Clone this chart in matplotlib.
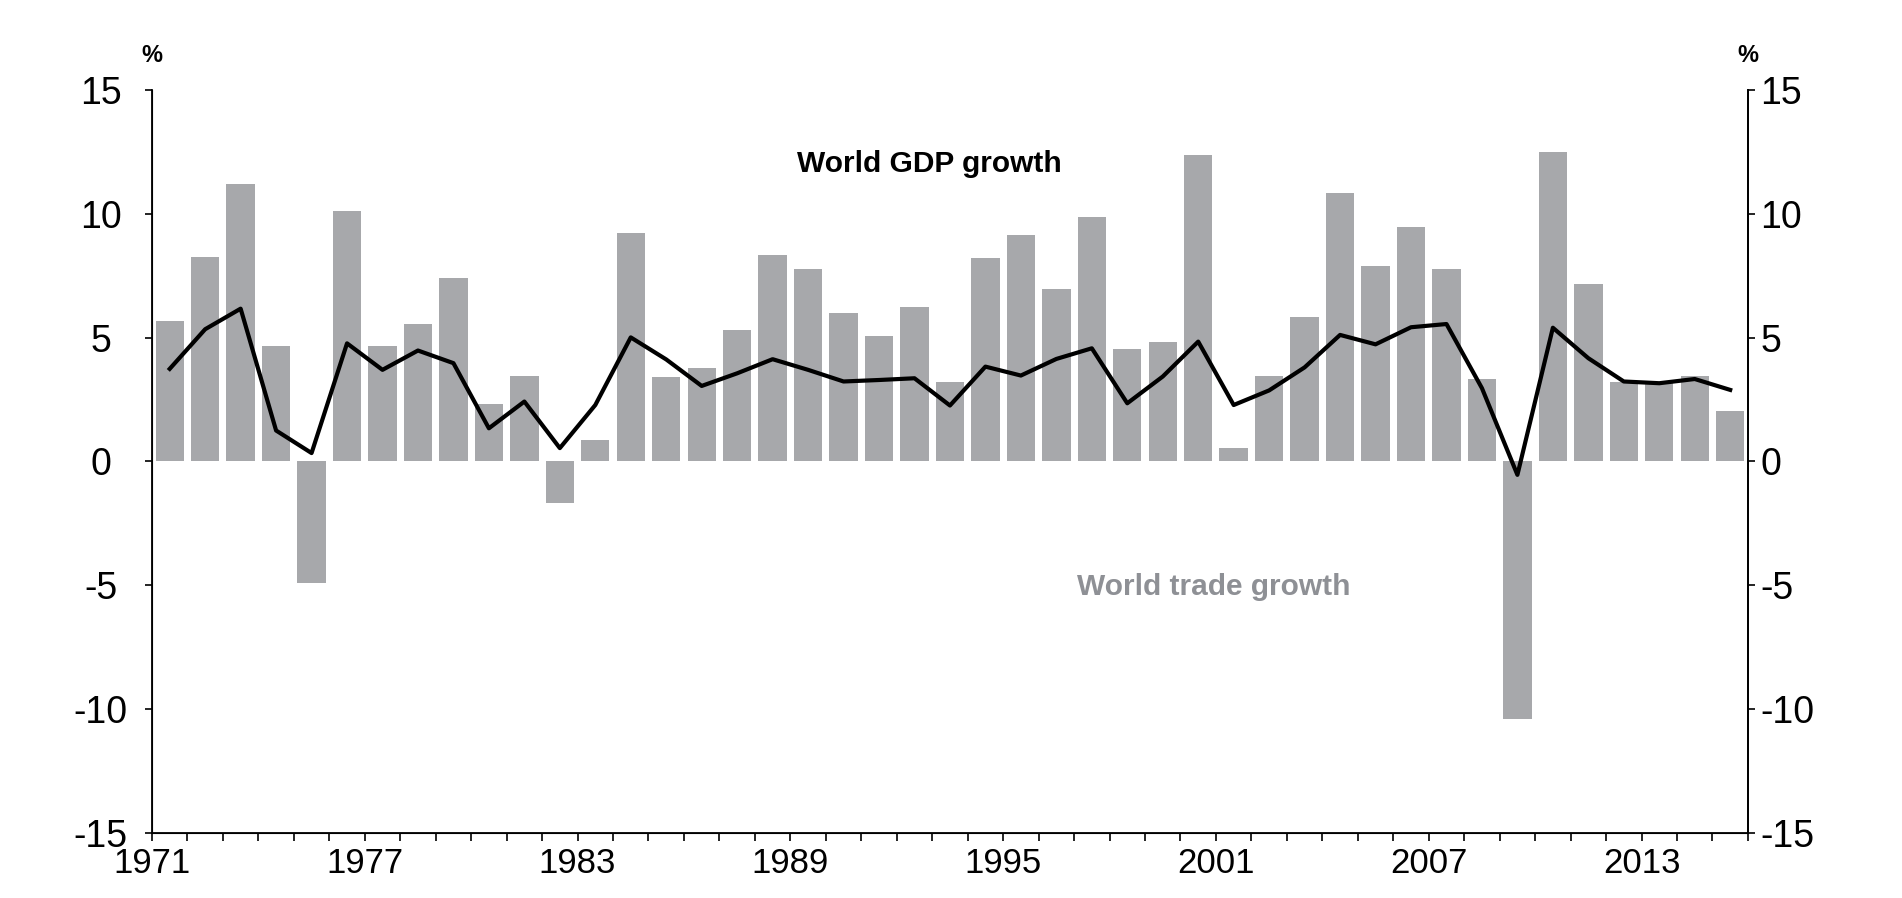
import matplotlib
matplotlib.use("Agg")
import matplotlib.pyplot as plt
import numpy as np

# World trade growth (bars) and world GDP growth (line), annual %, 1971-2015
years = np.arange(1971, 2016)
trade = [5.67, 8.25, 11.2, 4.66, -4.9, 10.1, 4.66, 5.55, 7.4, 2.34,
         3.47, -1.69, 0.85, 9.22, 3.41, 3.78, 5.31, 8.33, 7.77, 5.99,
         5.07, 6.24, 3.21, 8.21, 9.14, 6.96, 9.87, 4.54, 4.83, 12.37,
         0.55, 3.45, 5.83, 10.83, 7.89, 9.46, 7.77, 3.33, -10.39, 12.49,
         7.16, 3.21, 3.15, 3.45, 2.02]
gdp = [3.74, 5.34, 6.17, 1.25, 0.34, 4.77, 3.7, 4.48, 3.97, 1.34,
       2.42, 0.54, 2.28, 5.01, 4.12, 3.05, 3.56, 4.13, 3.7, 3.23,
       3.29, 3.36, 2.26, 3.83, 3.47, 4.14, 4.57, 2.35, 3.43, 4.84,
       2.28, 2.87, 3.8, 5.11, 4.73, 5.42, 5.55, 2.96, -0.54, 5.4,
       4.17, 3.23, 3.16, 3.33, 2.89]
label_years = list(range(1971, 2014, 6))

plt.rcParams['font.family'] = ['Liberation Sans', 'DejaVu Sans']
plt.rcParams['axes.unicode_minus'] = False

fig = plt.figure(figsize=(19.02, 8.98), dpi=100)
ax = fig.add_axes([0.0799, 0.0724, 0.8391, 0.8274])

pos = np.arange(len(years)) + 0.5
ax.bar(pos, trade, width=0.8, color='#a7a8ab', zorder=1)
ax.plot(pos, gdp, color='black', linewidth=3, zorder=2)

ax.set_xlim(0, len(years))
ax.set_ylim(-15, 15)
ax.set_yticks(np.arange(-15, 16, 5))
ax.set_xticks(np.arange(len(years) + 1), minor=True)
ax.set_xticks([y - 1971 for y in label_years])
ax.set_xticklabels([str(y) for y in label_years], fontsize=25)

for s in ['left', 'right', 'bottom']:
    ax.spines[s].set_linewidth(1.3)
ax.spines['top'].set_visible(False)

ax.tick_params(axis='x', which='both', direction='out', length=6, width=1.2, pad=4)
ax.tick_params(axis='y', direction='out', length=5, width=1.2, labelsize=27, pad=32)
for lab in ax.get_yticklabels():
    lab.set_horizontalalignment('center')

ax2 = ax.twinx()
ax2.set_ylim(-15, 15)
ax2.set_yticks(np.arange(-15, 16, 5))
ax2.tick_params(axis='y', direction='out', length=5, width=1.2, labelsize=27, pad=4)
ax2.spines['top'].set_visible(False)
ax2.spines['right'].set_linewidth(1.3)

ax.text(21.93, 12.0, 'World GDP growth', ha='center', va='center',
        fontsize=21.5, fontweight='bold', color='black')
ax.text(29.94, -5.07, 'World trade growth', ha='center', va='center',
        fontsize=21.5, fontweight='bold', color='#8e9095')

ax.text(0, 1.047, '%', transform=ax.transAxes, ha='center', va='center',
        fontsize=17, fontweight='bold')
ax.text(1, 1.047, '%', transform=ax.transAxes, ha='center', va='center',
        fontsize=17, fontweight='bold')

fig.savefig('out.png', dpi=100)
